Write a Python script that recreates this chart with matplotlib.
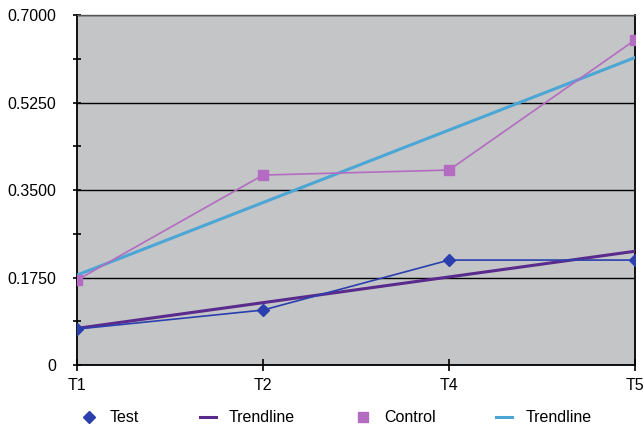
import numpy as np
import matplotlib.pyplot as plt
from matplotlib.ticker import FixedLocator
from matplotlib.lines import Line2D

plt.rcParams['font.family'] = ['Liberation Sans', 'DejaVu Sans']

categories = ["T1", "T2", "T4", "T5"]
test = [0.072, 0.11, 0.21, 0.21]
control = [0.17, 0.38, 0.39, 0.65]
y_ticks = [0, 0.175, 0.35, 0.525, 0.7]
y_labels = ["0", "0.1750", "0.3500", "0.5250", "0.7000"]

x = np.arange(len(categories))
test_fit = np.polyval(np.polyfit(x, test, 1), x)
control_fit = np.polyval(np.polyfit(x, control, 1), x)

c_test = "#2b3fae"
c_test_tr = "#5a2b8c"
c_ctrl = "#b46cc2"
c_ctrl_tr = "#4ba6d6"

fig = plt.figure(figsize=(6.44, 4.3), dpi=100)
ax = fig.add_axes([0.1196, 0.151, 0.8664, 0.814])
ax.set_facecolor("#c3c5c7")

ax.plot(x, test_fit, color=c_test_tr, lw=2.2, zorder=3)
ax.plot(x, test, color=c_test, lw=1.2, marker="D", ms=6, zorder=4)
ax.plot(x, control_fit, color=c_ctrl_tr, lw=2.2, zorder=3)
ax.plot(x, control, color=c_ctrl, lw=1.2, marker="s", ms=7, zorder=4)

ax.set_xlim(0, 3)
ax.set_ylim(0, 0.7)
ax.set_xticks(x)
ax.set_xticklabels(categories, fontsize=11.5)
ax.set_yticks(y_ticks)
ax.set_yticklabels(y_labels, fontsize=11.5)
ax.yaxis.set_minor_locator(FixedLocator([0.0875, 0.2625, 0.4375, 0.6125]))
ax.tick_params(axis="y", which="both", direction="inout", length=6, width=1.2, pad=12)
ax.tick_params(axis="x", direction="inout", length=8, width=1.2, pad=5)
ax.grid(axis="y", which="major", color="black", lw=1.0, zorder=1)
ax.set_axisbelow(True)
for s in ["left", "bottom", "right"]:
    ax.spines[s].set_linewidth(1.3)
    ax.spines[s].set_color("black")
ax.spines["top"].set_color("#555555")
ax.spines["top"].set_linewidth(1.0)

handles = [
    Line2D([], [], color=c_test, marker="D", ms=6, lw=0),
    Line2D([], [], color=c_test_tr, lw=2.2),
    Line2D([], [], color=c_ctrl, marker="s", ms=7, lw=0),
    Line2D([], [], color=c_ctrl_tr, lw=2.2),
]
fig.legend(handles, ["Test", "Trendline", "Control", "Trendline"], loc="center",
           bbox_to_anchor=(0.522, 0.028), ncol=4, frameon=False, fontsize=11.5,
           handlelength=1.0, columnspacing=3.8, handletextpad=0.8)

fig.savefig("out.png", dpi=100)
